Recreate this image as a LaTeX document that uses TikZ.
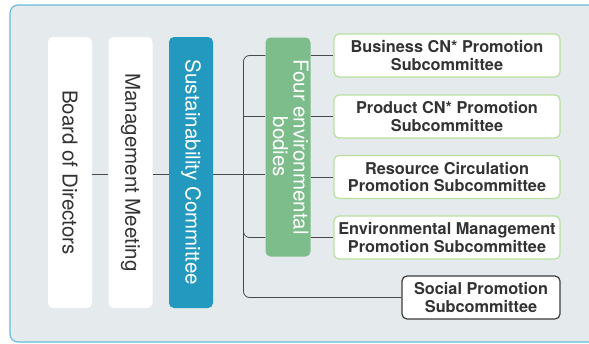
\documentclass[tikz,border=0pt]{standalone}
\usepackage{fontspec}
\setmainfont{TeX Gyre Heros}
\usepackage{graphicx}
\usetikzlibrary{positioning}
\definecolor{panelgray}{HTML}{E5EAED}
\definecolor{panelblue}{HTML}{6CB9D8}
\definecolor{sustblue}{HTML}{2399BF}
\definecolor{envgreen}{HTML}{7DBD8B}
\definecolor{subgreen}{HTML}{B9DFA0}
\definecolor{socialgray}{HTML}{3C3C3C}
\definecolor{linegray}{HTML}{4A4A4A}
\definecolor{textdark}{HTML}{333333}
\tikzset{
  % tall boxes on the left
  column/.style = {draw=none, rounded corners=5pt, inner sep=0pt,
    minimum width=44pt, minimum height=271pt,
    font=\fontsize{20.5}{18.5}\selectfont},
  % boxes with the subcommittees
  subbox/.style = {draw=subgreen, line width=1.2pt, fill=white,
    rounded corners=5pt, inner sep=0pt, align=center,
    minimum width=226pt, minimum height=43pt, text=textdark,
    font=\fontsize{16.3}{17.5}\selectfont\bfseries},
  link/.style = {draw=linegray, line width=0.8pt}
}

\begin{document}
\begin{tikzpicture}[x=1pt,y=-1pt]
    \useasboundingbox (0,0) rectangle (589,343);
    % Gray panel behind everything
    \draw[rounded corners=8pt, fill=panelgray, draw=panelblue, line width=1.2pt]
      (10,5) rectangle (620,342);
    % The three columns
    \node[column, fill=white, text=textdark] (board) at (70,172.5)
      {\rotatebox{-90}{Board of Directors}};
    \node[column, fill=white, text=textdark] (meeting) at (130.5,172.5)
      {\rotatebox{-90}{Management Meeting}};
    \node[column, fill=sustblue, text=white] (sustain) at (191,172.5)
      {\rotatebox{-90}{Sustainability Committee}};
    % Environmental bodies
    \node[column, fill=envgreen, text=white, minimum width=45pt, minimum height=219pt]
      (envbodies) at (288,147)
      {\rotatebox{-90}{\begin{tabular}{@{}c@{}}Four environmental\\bodies\end{tabular}}};
    % Subcommittees
    \node[subbox] (sub1) at (447,55.5) {Business CN* Promotion\\Subcommittee};
    \node[subbox] (sub2) at (447,116.5) {Product CN* Promotion\\Subcommittee};
    \node[subbox] (sub3) at (447,177) {Resource Circulation\\Promotion Subcommittee};
    \node[subbox] (sub4) at (447,237.5) {Environmental Management\\Promotion Subcommittee};
    \node[subbox, draw=socialgray, minimum width=158pt] (social) at (481,297.5)
      {Social Promotion\\Subcommittee};
    % Bus line
    \coordinate (hub) at (243.5,174);
    \draw[link] (board.east |- hub) -- (meeting.west |- hub);
    \draw[link] (meeting.east |- hub) -- (sustain.west |- hub);
    \draw[link] (sustain.east |- hub) -- (envbodies.west |- hub);
    \draw[link, rounded corners=6pt] (envbodies.west |- sub1) -- (hub |- sub1)
      -- (hub |- sub4) -- (envbodies.west |- sub4);
    \draw[link] (hub |- sub2) -- (envbodies.west |- sub2);
    \draw[link, rounded corners=6pt] (hub) |- (social.west);
    % Links to the subcommittees
    \foreach \subnum in {1,...,4}
    \draw[link] (envbodies.east |- sub\subnum) -- (sub\subnum.west);
  \end{tikzpicture}
\end{document}
